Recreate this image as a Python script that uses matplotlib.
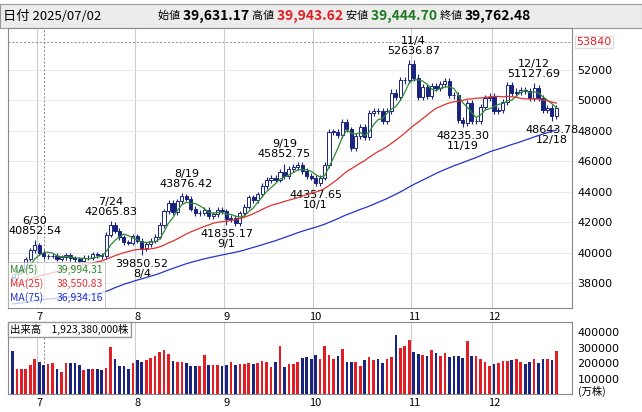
import matplotlib
matplotlib.use('Agg')
import matplotlib.pyplot as plt
from matplotlib.patches import Rectangle
import numpy as np
import pandas as pd

plt.rcParams['font.family'] = ['Noto Sans CJK JP', 'DejaVu Sans']

# closes before the chart window (for the moving averages)
pre_closes = [37751, 37677, 37608, 37780, 38027, 37800, 37799, 36820, 37120, 35617,
              35624, 35725, 34736, 33781, 31136, 33013, 31714, 34609, 33586, 33982,
              34267, 33920, 34377, 34730, 34280, 34220, 34868, 35039, 35705, 35839, 36045,
              36452, 36830, 36779, 36928, 37503, 37644, 38183, 38128, 37755, 37753,
              37498, 37529, 37298, 36985, 37160, 37531, 37724, 37722, 38432, 37965,
              37470, 37446, 37747, 37554, 37741, 38088, 38211, 38421, 38173, 37834,
              38311, 38536, 38885, 38488, 38403]

# chart window 2025/06/23 - 2025/12/19
closes = [38354, 38790, 38942, 39584, 40150, 40487,
          39986, 39762, 39785, 39810, 39587, 39688, 39821, 39646, 39570, 39459, 39678,
          39663, 39901, 39819, 39774, 41171, 41826, 41456, 40998, 40674, 40654, 41069,
          40799, 40290, 40549, 40794, 41059, 41820, 42718, 43274, 42649, 43378,
          43714, 43546, 42888, 42610, 42633, 42807, 42394, 42520, 42829, 42718,
          42188, 42310, 41938, 42580, 43018, 43643, 43459, 43837, 44372, 44768,
          44902, 44790, 45303, 45045, 45493, 45630, 45754, 45354, 45043, 44932,
          44550, 44936, 45769, 47944, 47950, 47734, 48580, 48088, 46847, 47672, 48277,
          47582, 49185, 49316, 49307, 48641, 49299, 50512, 50219, 51307, 51325, 52411,
          51497, 50212, 50883, 50276, 50911, 50842, 51063, 51281, 50376, 50323, 48702,
          48537, 49823, 48625, 48659, 49559, 50167, 50253,
          49303, 49383, 49864, 51028, 50491, 50581, 50655, 50602, 50148, 50836, 50168,
          49383, 49512, 49001, 49507]

volumes = [280, 165, 165, 165, 190, 225, 210, 190, 195, 200,
           165, 140, 200, 200, 200, 190, 155, 165, 165, 165,
           155, 170, 305, 225, 185, 180, 165, 200, 220, 205,
           220, 235, 245, 275, 285, 260, 215, 210, 205, 200,
           185, 180, 185, 255, 190, 190, 190, 180, 190, 210,
           190, 195, 195, 200, 195, 200, 215, 205, 175, 210,
           310, 175, 195, 195, 210, 235, 240, 230, 255, 230,
           310, 255, 230, 245, 290, 210, 210, 210, 180, 220,
           240, 220, 225, 200, 230, 240, 385, 300, 310, 350,
           275, 260, 255, 250, 285, 265, 250, 265, 240, 245,
           250, 235, 345, 250, 245, 230, 210, 180, 195, 200,
           215, 215, 220, 225, 210, 195, 210, 225, 200, 225,
           225, 220, 280]
volumes = [v * 1000 for v in volumes]

holidays = ['2025-07-21', '2025-08-11', '2025-09-15', '2025-09-23',
            '2025-10-13', '2025-11-03', '2025-11-24']

# annotated extremes: (date, kind, value)
marks = [('2025-06-30', 'high', 40852.54), ('2025-07-24', 'high', 42065.83),
         ('2025-08-19', 'high', 43876.42), ('2025-09-19', 'high', 45852.75),
         ('2025-11-04', 'high', 52636.87), ('2025-12-12', 'high', 51127.69),
         ('2025-08-04', 'low', 39850.52), ('2025-09-01', 'low', 41835.17),
         ('2025-10-01', 'low', 44357.65), ('2025-11-19', 'low', 48235.30),
         ('2025-12-18', 'low', 48643.78)]

price_ticks = [38000, 40000, 42000, 44000, 46000, 48000, 50000, 52000]
vol_ticks = [100000, 200000, 300000, 400000]

dates = [d for d in pd.bdate_range('2025-06-23', '2025-12-19')
         if d.strftime('%Y-%m-%d') not in holidays]
n = len(closes)
x = np.arange(n)
opens = [38400] + closes[:-1]
highs = [max(o, c) * 1.004 for o, c in zip(opens, closes)]
lows = [min(o, c) * 0.996 for o, c in zip(opens, closes)]
dstr = [d.strftime('%Y-%m-%d') for d in dates]
for d, kind, v in marks:
    i = dstr.index(d)
    if kind == 'high':
        highs[i] = v
    else:
        lows[i] = v

allc = pd.Series(pre_closes + closes)
ma5 = allc.rolling(5, min_periods=1).mean().values[-n:]
ma25 = allc.rolling(25, min_periods=1).mean().values[-n:]
ma75 = allc.rolling(75, min_periods=1).mean().values[-n:]

month_idx = [i for i in range(1, n) if dates[i].month != dates[i - 1].month]
month_lab = [str(dates[i].month) for i in month_idx]

W, H = 642, 412
fig = plt.figure(figsize=(W / 100, H / 100), dpi=100)
navy = '#1a237e'
red = '#e01e24'

def box(l, t, r, b):
    return [l / W, 1 - b / H, (r - l) / W, (b - t) / H]

# header
hdr = fig.add_axes(box(0, 4, 642, 28))
hdr.set_facecolor('#ececec')
hdr.set_xticks([]); hdr.set_yticks([])
for s in hdr.spines.values():
    s.set_color('#999999')
hdr.text(0.005, 0.5, '日付 2025/07/02', fontsize=9.5, va='center', transform=hdr.transAxes)
parts = [('始値 ', 'black', 'normal', 8), ('39,631.17 ', 'black', 'bold', 10),
         ('高値 ', 'black', 'normal', 8), ('39,943.62 ', red, 'bold', 10),
         ('安値 ', 'black', 'normal', 8), ('39,444.70 ', '#1f7a1f', 'bold', 10),
         ('終値 ', 'black', 'normal', 8), ('39,762.48', 'black', 'bold', 10)]
fig.canvas.draw()
xpos = 158
rend = fig.canvas.get_renderer()
for txt, col, wt, fs in parts:
    t = fig.text(xpos / W, 1 - 16 / H, txt, color=col, fontweight=wt, fontsize=fs, va='center')
    xpos += t.get_window_extent(rend).width

# price panel
ax = fig.add_axes(box(8, 28, 572, 308))
ax.set_xlim(-1, n + 2.5)
ax.set_ylim(36370, 54750)
for i in month_idx:
    ax.axvline(i - 0.5, color='#cccccc', lw=0.8, zorder=0)
for p in price_ticks:
    ax.axhline(p, color='#e6e6e6', lw=0.6, zorder=0)
ax.axhline(53840, color='#888888', lw=0.7, ls=(0, (2, 2)), zorder=1)
ax.axvline(dstr.index('2025-07-02'), color='#888888', lw=0.7, ls=(0, (2, 2)), zorder=1)
for i in range(n):
    ax.vlines(x[i], lows[i], highs[i], color=navy, lw=0.8, zorder=3)
    up = closes[i] >= opens[i]
    lo, hi = min(opens[i], closes[i]), max(opens[i], closes[i])
    ax.add_patch(Rectangle((x[i] - 0.35, lo), 0.7, max(hi - lo, 20),
                           facecolor='white' if up else navy, edgecolor=navy, lw=0.7, zorder=4))
ax.plot(x, ma5, color='#2e8b2e', lw=0.9, zorder=5)
ax.plot(x, ma25, color='#e03030', lw=0.9, zorder=5)
ax.plot(x, ma75, color='#2233cc', lw=0.9, zorder=5)
for d, kind, v in marks:
    i = dstr.index(d)
    lab = '%d/%d' % (dates[i].month, dates[i].day)
    if kind == 'high':
        ax.annotate(lab + '\n' + '%.2f' % v, (x[i], v), xytext=(0, 3), textcoords='offset points',
                    ha='center', va='bottom', fontsize=8, linespacing=1.0, family='DejaVu Sans')
    else:
        ax.annotate('%.2f' % v + '\n' + lab, (x[i], v), xytext=(0, -3), textcoords='offset points',
                    ha='center', va='top', fontsize=8, linespacing=1.0, family='DejaVu Sans')
ax.yaxis.tick_right()
ax.set_yticks(price_ticks)
ax.set_yticklabels([str(p) for p in price_ticks], fontsize=8, family='DejaVu Sans')
ax.tick_params(axis='y', length=0, pad=4)
ax.set_xticks(month_idx)
ax.set_xticklabels(month_lab, fontsize=8)
ax.tick_params(axis='x', length=0, pad=3)
ax.text(1.008, 53840, '53840', color=red, fontsize=8, va='center', family='DejaVu Sans',
        transform=ax.get_yaxis_transform(),
        bbox=dict(facecolor='white', edgecolor='#dddddd', pad=1))
for s in ax.spines.values():
    s.set_color('#888888')
lg = [('MA(5)', '39,994.31', '#2e8b2e'), ('MA(25)', '38,550.83', '#e03030'),
      ('MA(75)', '36,934.16', '#2233cc')]
ax.add_patch(Rectangle((0, 0), 97 / 564, 46 / 280, transform=ax.transAxes,
                       facecolor='white', alpha=0.75, edgecolor='#aaaaaa', lw=0.6, zorder=6))
for k, (a, b, c) in enumerate(lg):
    yy = (38 - k * 14) / 280
    ax.text(2 / 564, yy, a, color=c, fontsize=7.5, transform=ax.transAxes, va='center', zorder=7)
    ax.text(95 / 564, yy, b, color=c, fontsize=7.5, transform=ax.transAxes, va='center',
            ha='right', zorder=7)

# volume panel
av = fig.add_axes(box(8, 322, 572, 394))
av.set_xlim(ax.get_xlim())
av.set_ylim(0, 468000)
for i in month_idx:
    av.axvline(i - 0.5, color='#cccccc', lw=0.8, zorder=0)
cols = [red if c >= o else navy for o, c in zip(opens, closes)]
av.bar(x, volumes, width=0.6, color=cols, zorder=2)
av.axvline(dstr.index('2025-07-02'), color='#888888', lw=0.7, ls=(0, (2, 2)), zorder=1)
av.yaxis.tick_right()
av.set_yticks(vol_ticks)
av.set_yticklabels([str(v) for v in vol_ticks], fontsize=8, family='DejaVu Sans')
av.tick_params(axis='y', length=0, pad=4)
av.set_xticks(month_idx)
av.set_xticklabels(month_lab, fontsize=8)
av.tick_params(axis='x', length=0, pad=3)
for s in av.spines.values():
    s.set_color('#888888')
av.text(1.01, 0.04, '(万株)', fontsize=7.5, transform=av.transAxes, va='center')
av.text(0.004, 0.9, '出来高　1,923,380,000株', fontsize=7.5, transform=av.transAxes,
        va='center', bbox=dict(facecolor='white', edgecolor='#999999', pad=1.5))

fig.savefig('out.png', dpi=100)
